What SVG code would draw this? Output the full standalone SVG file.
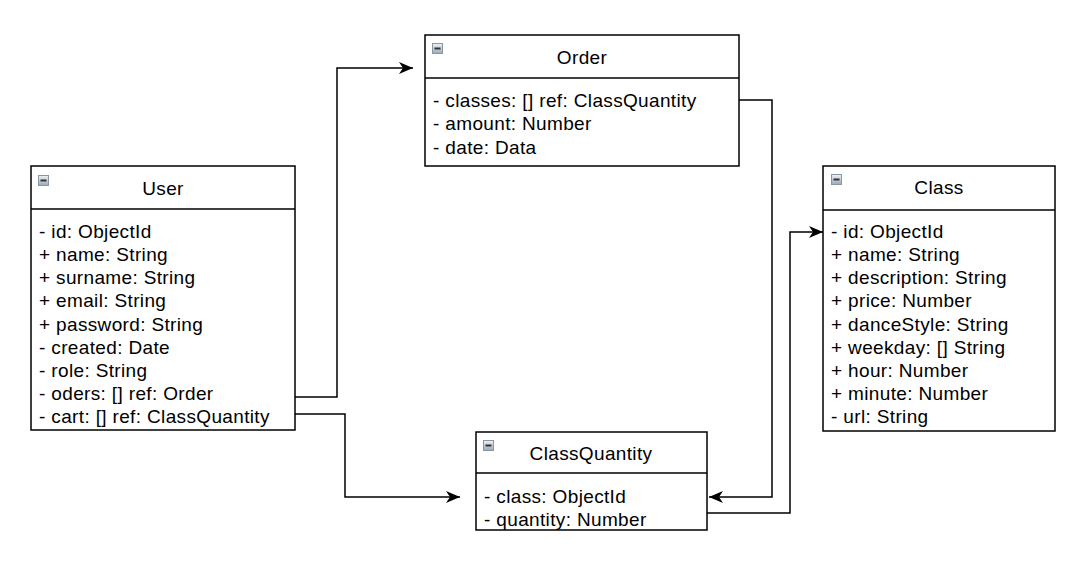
<svg xmlns="http://www.w3.org/2000/svg" width="1087" height="565" viewBox="0 0 1087 565">
<style>
.box{fill:#fff;stroke:#000;stroke-width:1.5}
.t{font-family:"Liberation Sans",Arial,sans-serif;font-size:19px;letter-spacing:0.35px;fill:#000}
.c{text-anchor:middle}
.edge{fill:none;stroke:#000;stroke-width:1.5}
</style>
<defs>
<linearGradient id="g" x1="0" y1="0" x2="0" y2="1"><stop offset="0" stop-color="#eef2f6"/><stop offset="1" stop-color="#9aa8b8"/></linearGradient>
<g id="ico"><rect x="0.5" y="0.5" width="10" height="10" fill="url(#g)" stroke="#8a96a4" stroke-width="1"/><rect x="2.5" y="4.5" width="6" height="2" fill="#333"/></g>
<marker id="arr" markerWidth="18" markerHeight="16" refX="14" refY="6" orient="auto" markerUnits="userSpaceOnUse"><path d="M0,0 L14,6 L0,12 L4,6 Z" fill="#000"/></marker>
</defs>
<g id="connectors">
<path class="edge" d="M295,397 H337 V68 H413" marker-end="url(#arr)"/>
<path class="edge" d="M295,414 H345 V497 H460" marker-end="url(#arr)"/>
<path class="edge" d="M739,100 H772 V497 H709" marker-end="url(#arr)"/>
<path class="edge" d="M707,513 H790 V232 H823" marker-end="url(#arr)"/>
</g>
<g id="user">
<rect class="box" x="31" y="166" width="264" height="264"/>
<line class="edge" x1="31" y1="209" x2="295" y2="209"/>
<use href="#ico" x="38" y="175"/>
<text class="t c" x="163" y="195">User</text>
<text class="t" x="39" y="238">- id: ObjectId</text>
<text class="t" x="39" y="261">+ name: String</text>
<text class="t" x="39" y="284">+ surname: String</text>
<text class="t" x="39" y="307">+ email: String</text>
<text class="t" x="39" y="331">+ password: String</text>
<text class="t" x="39" y="354">- created: Date</text>
<text class="t" x="39" y="377">- role: String</text>
<text class="t" x="39" y="400">- oders: [] ref: Order</text>
<text class="t" x="39" y="423">- cart: [] ref: ClassQuantity</text>
</g>
<g id="order">
<rect class="box" x="425" y="35" width="314" height="131"/>
<line class="edge" x1="425" y1="78" x2="739" y2="78"/>
<use href="#ico" x="432" y="43"/>
<text class="t c" x="582" y="64">Order</text>
<text class="t" x="433" y="107">- classes: [] ref: ClassQuantity</text>
<text class="t" x="433" y="130">- amount: Number</text>
<text class="t" x="433" y="154">- date: Data</text>
</g>
<g id="class">
<rect class="box" x="823" y="166" width="232" height="265"/>
<line class="edge" x1="823" y1="210" x2="1055" y2="210"/>
<use href="#ico" x="831" y="174"/>
<text class="t c" x="939" y="194">Class</text>
<text class="t" x="831" y="238">- id: ObjectId</text>
<text class="t" x="831" y="261">+ name: String</text>
<text class="t" x="831" y="284">+ description: String</text>
<text class="t" x="831" y="307">+ price: Number</text>
<text class="t" x="831" y="331">+ danceStyle: String</text>
<text class="t" x="831" y="354">+ weekday: [] String</text>
<text class="t" x="831" y="377">+ hour: Number</text>
<text class="t" x="831" y="400">+ minute: Number</text>
<text class="t" x="831" y="423">- url: String</text>
</g>
<g id="classquantity">
<rect class="box" x="476" y="432" width="231" height="98"/>
<line class="edge" x1="476" y1="473" x2="707" y2="473"/>
<use href="#ico" x="483" y="440"/>
<text class="t c" x="591" y="460">ClassQuantity</text>
<text class="t" x="484" y="503">- class: ObjectId</text>
<text class="t" x="484" y="526">- quantity: Number</text>
</g>
</svg>
